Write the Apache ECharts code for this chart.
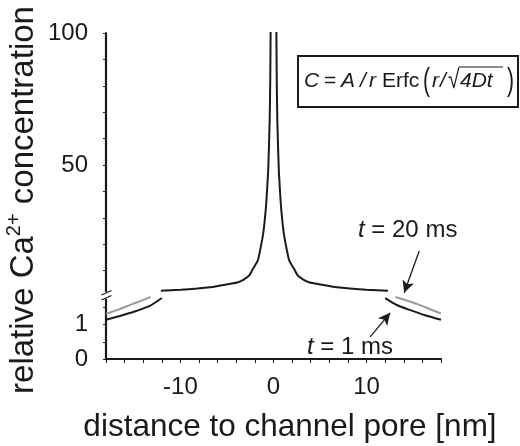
<!DOCTYPE html>
<html>
<head>
<meta charset="utf-8">
<script src="https://cdn.jsdelivr.net/npm/echarts@6/dist/echarts.min.js"></script>
<style>
html,body{margin:0;padding:0;background:#fff;}
#c{width:520px;height:446px;}
</style>
</head>
<body>
<div id="c"></div>
<script>
// ---- data ----
// central peak (upper, broken-axis part, 0..100 scale); both times coincide here
const peakX = [-12.1, -10.0, -8.2, -6.4, -4.6, -3.8, -3.2, -2.6, -2.28, -1.67, -1.11, -0.78, -0.57, -0.41, -0.35, -0.31, -0.29,
               0.29, 0.31, 0.35, 0.41, 0.57, 0.78, 1.11, 1.67, 2.28, 2.6, 3.2, 3.8, 4.6, 6.4, 8.2, 10.0, 12.3];
const peakY = [2.4, 2.7, 3.2, 3.9, 5.0, 5.6, 6.6, 8.2, 10.2, 14.0, 24.0, 35.5, 48.0, 67.0, 82.0, 100, 110,
               110, 100, 82.0, 67.0, 48.0, 35.5, 24.0, 14.0, 10.2, 8.2, 6.6, 5.6, 5.0, 3.9, 3.2, 2.7, 2.4];
// outer tails (lower part, 0..1.8 scale)
const t20LeftX  = [-18, -16.6, -15.4, -14.3, -13.2];
const t20LeftY  = [1.31, 1.44, 1.57, 1.68, 1.80];
const t20RightX = [13.1, 14.3, 15.4, 16.7, 18];
const t20RightY = [1.80, 1.70, 1.60, 1.46, 1.32];
const t1LeftX   = [-18, -16.5, -15.0, -13.3, -12.0];
const t1LeftY   = [1.14, 1.25, 1.37, 1.54, 1.77];
const t1RightX  = [12.0, 13.3, 14.7, 16.3, 18];
const t1RightY  = [1.77, 1.56, 1.42, 1.27, 1.14];
// axis ticks
const xTickLabels = [-10, 0, 10];
const yUpperLabels = [50, 100];
const yLowerLabels = [0, 1];
// annotation arrows (data coordinates)
const arrow20 = [[15.66, 17.4], [14.04, 1.6]];   // upper grid
const arrow1  = [[10.39, 0.64], [12.54, 1.34]];  // lower grid

const zip = (xs, ys) => xs.map((x, i) => [x, ys[i]]);
const FONT = '"Liberation Sans", Arial, Helvetica, sans-serif';
const BLACK = '#1a1a1a';
const GRAY = '#9a9a9a';

const chart = echarts.init(document.getElementById('c'), null, {renderer: 'canvas'});

const axisCommon = {
  axisLine: {show: true, onZero: false, lineStyle: {color: BLACK, width: 2.2}},
  axisTick: {show: true, inside: false, length: 3, lineStyle: {color: BLACK, width: 1}},
  splitLine: {show: false},
  axisLabel: {color: BLACK, fontFamily: FONT, fontSize: 24, margin: 18}
};

const lineCommon = (color, sm) => ({
  type: 'line', showSymbol: false, symbol: 'none', smooth: sm,
  lineStyle: {color: color, width: 2}, itemStyle: {color: color}, silent: true, animation: false
});

const arrowLine = (pts) => ({
  silent: true, symbol: ['none', 'arrow'], symbolSize: [9, 12], animation: false,
  label: {show: false}, lineStyle: {color: BLACK, width: 1.3, type: 'solid'},
  emphasis: {disabled: true},
  data: [[{coord: pts[0]}, {coord: pts[1]}]]
});

const ftxt = (s, x, opts) => Object.assign({
  type: 'text', z: 51, x: x, y: 81,
  style: Object.assign({text: s, fill: BLACK, fontFamily: FONT, fontSize: 21,
    align: 'left', verticalAlign: 'middle'}, (opts && opts.style) || {})
}, (opts && opts.el) || {});

chart.setOption({
  backgroundColor: '#ffffff',
  animation: false,
  grid: [
    {left: 106, top: 33, width: 335, height: 264},
    {left: 106, top: 297, width: 335, height: 62}
  ],
  xAxis: [
    {type: 'value', gridIndex: 0, min: -18, max: 18, interval: 2, show: false},
    Object.assign({}, axisCommon, {
      type: 'value', gridIndex: 1, min: -18, max: 18, interval: 2,
      axisTick: {show: true, length: 4, lineStyle: {color: BLACK, width: 1}},
      axisLabel: Object.assign({}, axisCommon.axisLabel, {
        margin: 16,
        formatter: v => xTickLabels.includes(v) ? String(v) : ''
      })
    })
  ],
  yAxis: [
    Object.assign({}, axisCommon, {
      type: 'value', gridIndex: 0, min: 0, max: 100, interval: 10,
      axisLabel: Object.assign({}, axisCommon.axisLabel, {
        formatter: v => yUpperLabels.includes(v) ? String(v) : ''
      })
    }),
    Object.assign({}, axisCommon, {
      type: 'value', gridIndex: 1, min: 0, max: 1.8, interval: 0.5,
      axisLabel: Object.assign({}, axisCommon.axisLabel, {
        formatter: v => yLowerLabels.includes(v) ? String(v) : ''
      })
    })
  ],
  series: [
    Object.assign(lineCommon(BLACK, 0.15), {xAxisIndex: 0, yAxisIndex: 0, data: zip(peakX, peakY),
      markLine: arrowLine(arrow20)}),
    Object.assign(lineCommon(GRAY, 0.2), {xAxisIndex: 1, yAxisIndex: 1, data: zip(t20LeftX, t20LeftY)}),
    Object.assign(lineCommon(GRAY, 0.2), {xAxisIndex: 1, yAxisIndex: 1, data: zip(t20RightX, t20RightY)}),
    Object.assign(lineCommon(BLACK, 0.2), {xAxisIndex: 1, yAxisIndex: 1, data: zip(t1LeftX, t1LeftY),
      markLine: arrowLine(arrow1)}),
    Object.assign(lineCommon(BLACK, 0.2), {xAxisIndex: 1, yAxisIndex: 1, data: zip(t1RightX, t1RightY)})
  ],
  graphic: [
    // axis break
    {type: 'rect', z: 100, shape: {x: 100, y: 292, width: 12, height: 7}, style: {fill: '#ffffff'}},
    {type: 'line', z: 101, shape: {x1: 101.5, y1: 295, x2: 111.5, y2: 290.5}, style: {stroke: BLACK, lineWidth: 1.3}},
    {type: 'line', z: 101, shape: {x1: 101.5, y1: 300, x2: 111.5, y2: 295.5}, style: {stroke: BLACK, lineWidth: 1.3}},
    // formula box
    {type: 'rect', z: 50, shape: {x: 298, y: 56, width: 220, height: 51},
      style: {fill: '#ffffff', stroke: BLACK, lineWidth: 2}},
    ftxt('C', 304, {style: {fontStyle: 'italic'}}),
    ftxt('=', 324),
    ftxt('A', 341, {style: {fontStyle: 'italic'}}),
    ftxt('/', 360, {style: {fontStyle: 'italic'}}),
    ftxt('r', 369, {style: {fontStyle: 'italic'}}),
    ftxt('Erfc', 382),
    ftxt('(', 423, {el: {scaleY: 1.5}}),
    ftxt('r', 432, {style: {fontStyle: 'italic'}}),
    ftxt('/', 440, {style: {fontStyle: 'italic'}}),
    ftxt('√', 448, {el: {scaleY: 1.25}}),
    ftxt('4Dt', 460, {style: {fontStyle: 'italic'}}),
    ftxt(')', 507, {el: {scaleY: 1.5}}),
    {type: 'line', z: 52, shape: {x1: 459, y1: 67, x2: 503, y2: 67}, style: {stroke: BLACK, lineWidth: 1}},
    // y axis title
    {type: 'text', x: 24, y: 200, rotation: Math.PI / 2,
      style: {
        text: '{n|relative Ca}{s|2+}{n| concentration}',
        fill: BLACK, align: 'center', verticalAlign: 'middle',
        rich: {
          n: {fontSize: 33, fontFamily: FONT, fill: BLACK, lineHeight: 40},
          s: {fontSize: 20, fontFamily: FONT, fill: BLACK, verticalAlign: 'top', lineHeight: 40, padding: [0, 0, 14, 0]}
        }
      }},
    // x axis title
    {type: 'text', x: 290, y: 427,
      style: {text: 'distance to channel pore [nm]', fill: BLACK, font: '31.5px ' + FONT,
        align: 'center', verticalAlign: 'middle'}},
    // annotations
    {type: 'text', x: 358, y: 230,
      style: {text: '{i|t} = 20 ms', fill: BLACK, font: '24px ' + FONT, verticalAlign: 'middle',
        rich: {i: {fontStyle: 'italic', fontSize: 24, fontFamily: FONT, fill: BLACK}}}},
    {type: 'text', x: 307, y: 347,
      style: {text: '{i|t} = 1 ms', fill: BLACK, font: '24px ' + FONT, verticalAlign: 'middle',
        rich: {i: {fontStyle: 'italic', fontSize: 24, fontFamily: FONT, fill: BLACK}}}}
  ]
});
</script>
</body>
</html>
